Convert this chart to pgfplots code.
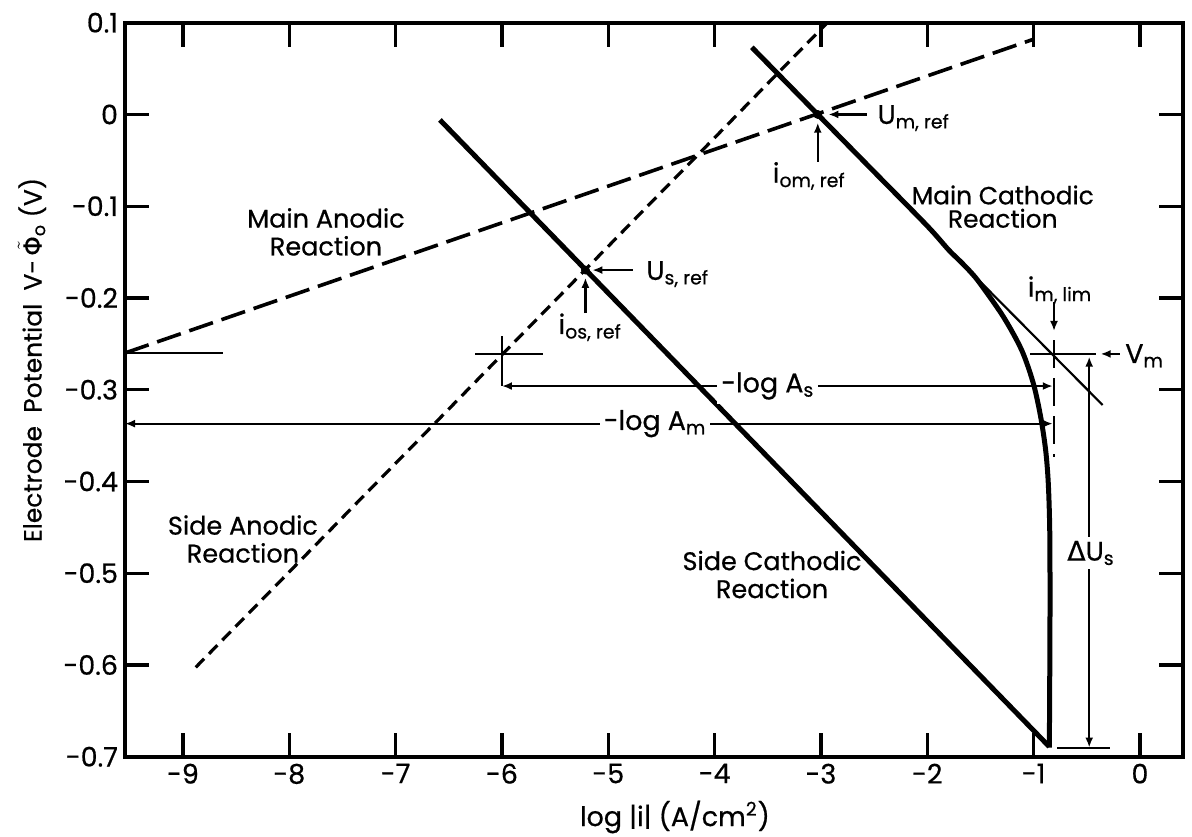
\documentclass[border=0pt]{standalone}
\usepackage{fontspec}
\setmainfont{Poppins}[FakeBold=0.6]
\newfontfamily\greek{DejaVu Sans}[FakeBold=0.3]
\usepackage{pgfplots}
\pgfplotsset{compat=1.18}
\usetikzlibrary{arrows.meta}

\begin{document}
\begin{tikzpicture}[font=\fontsize{12.5}{14}\selectfont, >={Latex[length=5bp,width=4bp]}]
\begin{axis}[
  scale only axis, width=529bp, height=367bp,
  xmin=-9.545, xmax=0.405, ymin=-0.7, ymax=0.1,
  clip mode=individual,
  xtick={-9,-8,-7,-6,-5,-4,-3,-2,-1,0},
  ytick={-0.7,-0.6,-0.5,-0.4,-0.3,-0.2,-0.1,0,0.1},
  tick align=inside,
  xtick pos=both, ytick pos=both,
  xticklabel pos=bottom, yticklabel pos=left,
  major tick length=12bp,
  every tick/.style={black, line width=1.6bp},
  axis line style={black, line width=2bp},
  /pgf/number format/assume math mode=true,
  ticklabel style={font=\fontsize{13.5}{15}\selectfont},
]
% main anodic reaction (long dashes)
\addplot[line width=1.8bp, dash pattern=on 12.5bp off 4.5bp] coordinates {(-9.545,-0.26) (-1.0,0.082)};
% side anodic reaction (short dashes)
\addplot[line width=1.6bp, dash pattern=on 6bp off 3.5bp] coordinates {(-8.88,-0.6026) (-2.94,0.1)};
% side cathodic reaction
\addplot[line width=2.5bp] coordinates {(-6.583,-0.006) (-0.853,-0.689)};
% main cathodic reaction
\addplot[line width=2.5bp, smooth, tension=0.5] coordinates {
(-3.65,0.0732) (-3.03,0) (-2.5,-0.0625) (-2.0,-0.1215) (-1.80,-0.1475)
(-1.69,-0.160) (-1.59,-0.172) (-1.505,-0.184) (-1.285,-0.2204) (-1.113,-0.2567)
(-1.003,-0.293) (-0.934,-0.3294) (-0.887,-0.3657) (-0.862,-0.402) (-0.848,-0.4565)
(-0.846,-0.55) (-0.852,-0.69)};
% Tafel extension (thin)
\addplot[line width=1.1bp] coordinates {(-1.80,-0.1475) (-0.351,-0.3167)};
% limiting current (dashed vertical)
\addplot[line width=1.2bp, dash pattern=on 14bp off 5bp] coordinates {(-0.81,-0.246) (-0.81,-0.373)};
% V_m line
\addplot[line width=1.1bp] coordinates {(-1.034,-0.261) (-0.413,-0.261)};
% left marker at -0.26
\addplot[line width=1.1bp] coordinates {(-9.545,-0.26) (-8.627,-0.26)};
% crosshair at (-6,-0.26)
\addplot[line width=1.1bp] coordinates {(-6.25,-0.261) (-5.61,-0.261)};
\addplot[line width=1.1bp] coordinates {(-6,-0.242) (-6,-0.296)};
% bottom marker for Delta U
\addplot[line width=1.1bp] coordinates {(-0.78,-0.6906) (-0.28,-0.6906)};
% intersection dots
\addplot[only marks, mark=*, mark size=2bp] coordinates {(-5.215,-0.1696) (-3.03,0)};

% arrows
\draw[->, line width=1.2bp] (axis cs:-4.77,-0.1696) -- (axis cs:-5.15,-0.1696);
\draw[->, line width=1.2bp] (axis cs:-5.215,-0.2166) -- (axis cs:-5.215,-0.178);
\draw[->, line width=1.2bp] (axis cs:-2.57,0) -- (axis cs:-2.93,0);
\draw[->, line width=1.2bp] (axis cs:-3.03,-0.0515) -- (axis cs:-3.03,-0.009);
\draw[->, line width=1.2bp] (axis cs:-0.808,-0.204) -- (axis cs:-0.808,-0.236);
\draw[->, line width=1.2bp] (axis cs:-0.188,-0.261) -- (axis cs:-0.37,-0.261);
\draw[<->, line width=1.1bp] (axis cs:-6,-0.296) -- (axis cs:-0.82,-0.296);
\draw[<->, line width=1.1bp] (axis cs:-9.545,-0.337) -- (axis cs:-0.82,-0.337);
\draw[<->, line width=1.1bp] (axis cs:-0.477,-0.264) -- (axis cs:-0.477,-0.690);

% labels
\node[align=center, font=\fontsize{12.8}{14}\selectfont] at (axis cs:-7.655,-0.128) {Main Anodic\\Reaction};
\node[align=center, font=\fontsize{12.5}{11.7}\selectfont] at (axis cs:-1.29,-0.1005) {Main Cathodic\\Reaction};
\node[align=center, font=\fontsize{12.8}{14}\selectfont] at (axis cs:-8.436,-0.4627) {Side Anodic\\Reaction};
\node[align=center, font=\fontsize{12.8}{14}\selectfont] at (axis cs:-3.46,-0.5014) {Side Cathodic\\Reaction};
\node[fill=white, inner sep=2bp, font=\fontsize{13.5}{15}\selectfont] at (axis cs:-3.50,-0.296) {-log A\textsubscript{s}};
\node[fill=white, inner sep=2bp, font=\fontsize{13.5}{15}\selectfont] at (axis cs:-4.56,-0.337) {-log A\textsubscript{m}};
\node[anchor=west, inner sep=1bp, font=\fontsize{13.5}{15}\selectfont] at (axis cs:-4.664,-0.174) {U\textsubscript{s, ref}};
\node[font=\fontsize{13.5}{15}\selectfont] at (axis cs:-5.17,-0.232) {i\textsubscript{os, ref}};
\node[anchor=west, inner sep=1bp, font=\fontsize{13.5}{15}\selectfont] at (axis cs:-2.49,-0.004) {U\textsubscript{m, ref}};
\node[font=\fontsize{13.5}{15}\selectfont] at (axis cs:-3.11,-0.067) {i\textsubscript{om, ref}};
\node[font=\fontsize{13.5}{15}\selectfont] at (axis cs:-0.752,-0.1914) {i\textsubscript{m, lim}};
\node[anchor=west, inner sep=1bp, font=\fontsize{13.5}{15}\selectfont] at (axis cs:-0.16,-0.263) {V\textsubscript{m}};
\node[fill=white, inner sep=2bp, font=\fontsize{13.5}{15}\selectfont] at (axis cs:-0.461,-0.478) {{\greek Δ}U\textsubscript{s}};
% axis titles
\node[rotate=90, font=\fontsize{12.5}{14}\selectfont] at (axis cs:-10.42,-0.2676) {Electrode\ \ Potential\ \ V-\,$\tilde{\mbox{\greek Φ}}$\textsubscript{o} (V)};
\node[font=\fontsize{13.5}{15}\selectfont] at (axis cs:-4.373,-0.7657) {log |i| (A/cm\textsuperscript{2})};
\end{axis}
\pgfresetboundingbox
\path[use as bounding box] ([shift={(-62.5bp,-39.65bp)}]current axis.south west) rectangle ([shift={(4.5bp,11.35bp)}]current axis.north east);
\end{tikzpicture}
\end{document}
